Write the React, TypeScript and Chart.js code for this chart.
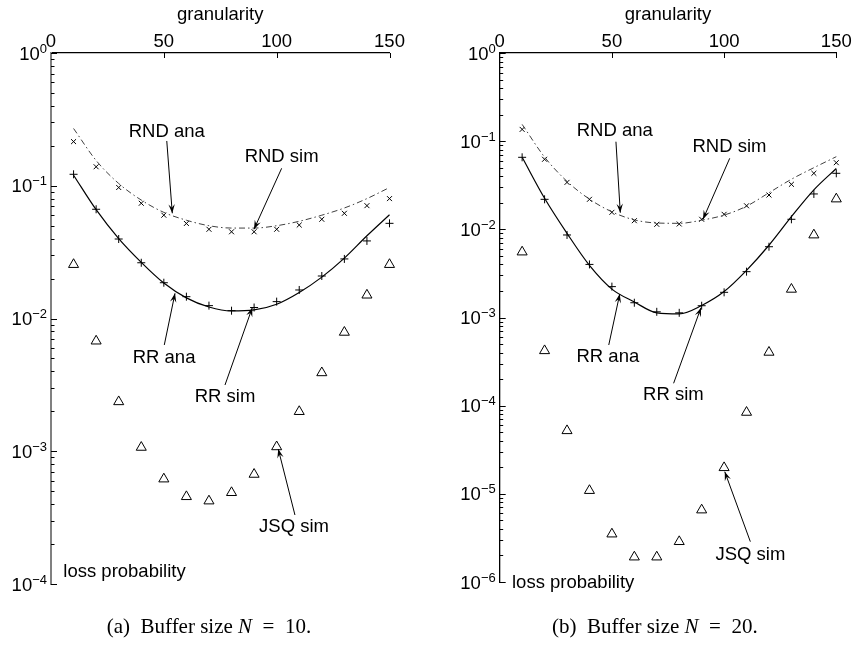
import React, { useEffect, useRef } from 'react';
import { Chart, registerables } from 'chart.js';

Chart.register(...registerables);

// ---------------- data ----------------
const granularity = [10, 20, 30, 40, 50, 60, 70, 80, 90, 100, 110, 120, 130, 140, 150];

// (a) Buffer size N = 10
const rndAnaA = [0.27, 0.155, 0.104, 0.078, 0.063, 0.055, 0.05, 0.048, 0.048, 0.05, 0.054, 0.06, 0.068, 0.08, 0.097];
const rndSimA = [0.215, 0.139, 0.097, 0.0738, 0.06, 0.052, 0.047, 0.045, 0.045, 0.047, 0.0506, 0.0559, 0.062, 0.0708, 0.08];
const rrAnaA = [0.12, 0.066, 0.04, 0.0265, 0.0185, 0.0143, 0.0122, 0.0114, 0.0116, 0.0128, 0.0157, 0.0205, 0.0285, 0.042, 0.0605];
const rrSimA = [0.122, 0.0665, 0.0397, 0.0263, 0.0186, 0.0146, 0.0125, 0.01145, 0.0121, 0.0134, 0.0164, 0.0209, 0.0281, 0.0384, 0.0521];
const jsqSimA = [0.0255, 0.00676, 0.00236, 0.00107, 0.000618, 0.000455, 0.000422, 0.000488, 0.00067, 0.00108, 0.00199, 0.0039, 0.00787, 0.015, 0.0255];

// (b) Buffer size N = 20
const rndAnaB = [0.155, 0.066, 0.035, 0.022, 0.0158, 0.0128, 0.0118, 0.0117, 0.0127, 0.0145, 0.0183, 0.026, 0.037, 0.05, 0.0667];
const rndSimB = [0.136, 0.0623, 0.0341, 0.0219, 0.0156, 0.01253, 0.0114, 0.0115, 0.013, 0.0148, 0.0185, 0.0245, 0.0324, 0.0432, 0.057];
const rrAnaB = [0.0656, 0.0225, 0.009, 0.0039, 0.0021, 0.0015, 0.00113, 0.0011, 0.00137, 0.00197, 0.00343, 0.0066, 0.0139, 0.028, 0.049];
const rrSimB = [0.0656, 0.0219, 0.00863, 0.004, 0.00224, 0.00147, 0.00116, 0.00113, 0.00136, 0.00193, 0.00331, 0.00635, 0.013, 0.0252, 0.0432];
const jsqSimB = [0.00553, 0.00042, 5.2e-5, 1.09e-5, 3.5e-6, 1.92e-6, 1.92e-6, 2.87e-6, 6.56e-6, 1.98e-5, 8.4e-5, 4.03e-4, 0.00209, 0.00863, 0.0221];

const xTickStep = 50;
const xTitle = 'granularity';
const yTitle = 'loss probability';

type Note = { text: string; tx: number; ty: number; sx: number; sy: number; ex: number; ey: number };

// annotation text position (t), arrow start (s) and arrow tip (e), in data coordinates
const notesA: Note[] = [
  { text: 'RND ana', tx: 51.3, ty: 0.2553, sx: 51.3, sy: 0.2174, ex: 53.75, ey: 0.062 },
  { text: 'RND sim', tx: 102.2, ty: 0.1655, sx: 102.2, sy: 0.1353, ex: 89.95, ey: 0.047 },
  { text: 'RR ana', tx: 50.1, ty: 0.005066, sx: 50.2, sy: 0.006318, ex: 54.95, ey: 0.01548 },
  { text: 'RR sim', tx: 77.1, ty: 0.002549, sx: 77.1, sy: 0.003155, ex: 89.2, ey: 0.01206 },
  { text: 'JSQ sim', tx: 107.7, ty: 0.0002674, sx: 108.1, sy: 0.000331, ex: 100.7, ey: 0.00104 },
];
const notesB: Note[] = [
  { text: 'RND ana', tx: 51.25, ty: 0.1315, sx: 51.8, sy: 0.0986, ex: 53.74, ey: 0.01544 },
  { text: 'RND sim', tx: 102.4, ty: 0.08658, sx: 102.5, sy: 0.06392, ex: 90.6, ey: 0.013 },
  { text: 'RR ana', tx: 48.2, ty: 0.0003537, sx: 48.6, sy: 0.0004878, ex: 53.5, ey: 0.001848 },
  { text: 'RR sim', tx: 77.4, ty: 0.0001322, sx: 77.5, sy: 0.0001794, ex: 89.7, ey: 0.001292 },
  { text: 'JSQ sim', tx: 111.7, ty: 2.024e-6, sx: 111.7, sy: 2.867e-6, ex: 100.3, ey: 1.783e-5 },
];

const captionA = ['(a)\u2002Buffer size ', 'N', '\u2002=\u200210.'];
const captionB = ['(b)\u2002Buffer size ', 'N', '\u2002=\u200220.'];

// ---------------- rendering ----------------
const SANS = '"Liberation Sans", Arial, sans-serif';
const SERIF = '"Liberation Serif", "Times New Roman", serif';
const FS = 18.5;

interface PanelSpec {
  id: string;
  rndAna: number[]; rndSim: number[]; rrAna: number[]; rrSim: number[]; jsqSim: number[];
  yMin: number;
  notes: Note[];
  loss: { x: number; y: number };
  caption: string[];
  yAxisWidth: number; padRight: number; padBottom: number;
  yAxisColor: string; yAxisLine: number;
  captionLeft: number;
}

function arrowhead(ctx: CanvasRenderingContext2D, sx: number, sy: number, ex: number, ey: number) {
  const ang = Math.atan2(ey - sy, ex - sx);
  const L = 9, W = 3.2, N = 5.5;
  const ux = Math.cos(ang), uy = Math.sin(ang);
  const nx = -uy, ny = ux;
  ctx.beginPath();
  ctx.moveTo(ex, ey);
  ctx.lineTo(ex - ux * L + nx * W, ey - uy * L + ny * W);
  ctx.lineTo(ex - ux * N, ey - uy * N);
  ctx.lineTo(ex - ux * L - nx * W, ey - uy * L - ny * W);
  ctx.closePath();
  ctx.fill();
}

function makeDecor(p: PanelSpec) {
  return {
    id: 'decor' + p.id,
    afterDraw(chart: any) {
      const ctx: CanvasRenderingContext2D = chart.ctx;
      const a = chart.chartArea;
      const xs = chart.scales.x, ys = chart.scales.y;
      ctx.save();
      ctx.strokeStyle = '#000';
      ctx.lineWidth = 1;
      const lo = Math.round(Math.log10(ys.min));
      const hi = Math.round(Math.log10(ys.max));
      // inward tick marks on the log axis
      ctx.beginPath();
      for (let e = lo; e <= hi; e++) {
        for (let m = 1; m <= 9; m++) {
          if (e === hi && m > 1) break;
          const py = Math.round(ys.getPixelForValue(m * Math.pow(10, e))) + 0.5;
          const len = m === 1 ? 6 : 3.5;
          ctx.moveTo(a.left, py);
          ctx.lineTo(a.left + len, py);
        }
      }
      // inward tick marks on the top axis
      for (const t of xs.ticks) {
        if (t.value === 0) continue;
        const px = Math.round(xs.getPixelForValue(t.value)) + 0.5;
        ctx.moveTo(px, a.top);
        ctx.lineTo(px, a.top + 5);
      }
      ctx.stroke();

      // y tick labels 10^e
      ctx.fillStyle = '#000';
      ctx.textBaseline = 'alphabetic';
      ctx.textAlign = 'left';
      for (let e = lo; e <= hi; e++) {
        const py = ys.getPixelForValue(Math.pow(10, e));
        const expStr = e === 0 ? '0' : '\u2212' + Math.abs(e);
        ctx.font = `13px ${SANS}`;
        const we = ctx.measureText(expStr).width;
        ctx.font = `${FS}px ${SANS}`;
        const wb = ctx.measureText('10').width;
        const R = a.left - 4;
        ctx.fillText('10', R - we - wb, py + 6.5);
        ctx.font = `13px ${SANS}`;
        ctx.fillText(expStr, R - we, py - 0.5);
      }

      // annotations
      ctx.font = `${FS}px ${SANS}`;
      ctx.textAlign = 'center';
      ctx.textBaseline = 'middle';
      for (const n of p.notes) {
        const tx = xs.getPixelForValue(n.tx), ty = ys.getPixelForValue(n.ty);
        ctx.fillText(n.text, tx, ty);
        const sx = xs.getPixelForValue(n.sx), sy = ys.getPixelForValue(n.sy);
        const ex = xs.getPixelForValue(n.ex), ey = ys.getPixelForValue(n.ey);
        ctx.beginPath();
        ctx.moveTo(sx, sy);
        ctx.lineTo(ex, ey);
        ctx.stroke();
        arrowhead(ctx, sx, sy, ex, ey);
      }
      ctx.textAlign = 'left';
      ctx.fillText(yTitle, xs.getPixelForValue(p.loss.x), ys.getPixelForValue(p.loss.y));

      // caption
      ctx.textBaseline = 'alphabetic';
      let cx = p.captionLeft;
      const cy = 633;
      ctx.font = `21px ${SERIF}`;
      ctx.fillText(p.caption[0], cx, cy);
      cx += ctx.measureText(p.caption[0]).width;
      ctx.font = `italic 21px ${SERIF}`;
      ctx.fillText(p.caption[1], cx, cy);
      cx += ctx.measureText(p.caption[1]).width;
      ctx.font = `21px ${SERIF}`;
      ctx.fillText(p.caption[2], cx, cy);
      ctx.restore();
    },
  };
}

function makeConfig(p: PanelSpec): any {
  const pts = (arr: number[]) => granularity.map((g, i) => ({ x: g, y: arr[i] }));
  return {
    type: 'line',
    data: {
      datasets: [
        { label: 'RND ana', data: pts(p.rndAna), borderColor: '#404040', borderWidth: 1, borderDash: [6, 3, 1.5, 3], pointRadius: 0, cubicInterpolationMode: 'monotone', fill: false, clip: false },
        { label: 'RND sim', data: pts(p.rndSim), showLine: false, pointStyle: 'crossRot', pointRadius: 3.5, pointBorderColor: '#000', pointBorderWidth: 1, borderColor: '#000', clip: false },
        { label: 'RR ana', data: pts(p.rrAna), borderColor: '#000', borderWidth: 1.2, pointRadius: 0, cubicInterpolationMode: 'monotone', fill: false, clip: false },
        { label: 'RR sim', data: pts(p.rrSim), showLine: false, pointStyle: 'cross', pointRadius: 4, pointBorderColor: '#000', pointBorderWidth: 1, borderColor: '#000', clip: false },
        { label: 'JSQ sim', data: pts(p.jsqSim), showLine: false, pointStyle: 'triangle', pointRadius: 5.8, pointBorderColor: '#000', pointBackgroundColor: 'rgba(0,0,0,0)', pointBorderWidth: 1, borderColor: '#000', clip: false },
      ],
    },
    options: {
      responsive: false,
      animation: false,
      devicePixelRatio: 1,
      layout: { padding: { left: 0, top: 0, right: p.padRight, bottom: p.padBottom } },
      plugins: { legend: { display: false }, tooltip: { enabled: false } },
      scales: {
        x: {
          type: 'linear', position: 'top', min: 0, max: 150,
          ticks: { stepSize: xTickStep, color: '#000', font: { family: SANS, size: FS }, padding: 0, maxRotation: 0 },
          grid: { display: true, drawOnChartArea: false, drawTicks: false, color: 'rgba(0,0,0,0)' },
          border: { display: true, color: '#000', width: 1.3 },
          title: { display: true, text: xTitle, color: '#000', font: { family: SANS, size: FS }, padding: { top: 4, bottom: 0 } },
          afterFit: (s: any) => { s.height = 53; },
        },
        y: {
          type: 'logarithmic', position: 'left', min: p.yMin, max: 1,
          ticks: { display: false },
          grid: { display: true, drawOnChartArea: false, drawTicks: false, color: 'rgba(0,0,0,0)' },
          border: { display: true, color: p.yAxisColor, width: p.yAxisLine },
          afterFit: (s: any) => { s.width = p.yAxisWidth; },
        },
      },
    },
    plugins: [makeDecor(p)],
  };
}

const panelA: PanelSpec = {
  id: 'a', rndAna: rndAnaA, rndSim: rndSimA, rrAna: rrAnaA, rrSim: rrSimA, jsqSim: jsqSimA,
  yMin: 1e-4, notes: notesA, loss: { x: 5.45, y: 0.0001231 }, caption: captionA,
  yAxisWidth: 51, padRight: 37.5, padBottom: 66, yAxisColor: '#808080', yAxisLine: 2, captionLeft: 106.7,
};
const panelB: PanelSpec = {
  id: 'b', rndAna: rndAnaB, rndSim: rndSimB, rrAna: rrAnaB, rrSim: rrSimB, jsqSim: jsqSimB,
  yMin: 1e-6, notes: notesB, loss: { x: 5.48, y: 9.67e-7 }, caption: captionB,
  yAxisWidth: 72.7, padRight: 17.7, padBottom: 68, yAxisColor: '#000', yAxisLine: 1.3, captionLeft: 125,
};

function Panel({ spec, left }: { spec: PanelSpec; left: number }) {
  const ref = useRef<HTMLCanvasElement | null>(null);
  useEffect(() => {
    if (!ref.current) return;
    const chart = new Chart(ref.current, makeConfig(spec));
    return () => chart.destroy();
  }, [spec]);
  return (
    <canvas ref={ref} width={427} height={650}
      style={{ position: 'absolute', left, top: 0, width: 427, height: 650, display: 'block' }} />
  );
}

export default function App() {
  return (
    <div style={{ position: 'fixed', left: 0, top: 0, width: 854, height: 650, background: '#fff', overflow: 'hidden' }}>
      <Panel spec={panelA} left={0} />
      <Panel spec={panelB} left={427} />
    </div>
  );
}
